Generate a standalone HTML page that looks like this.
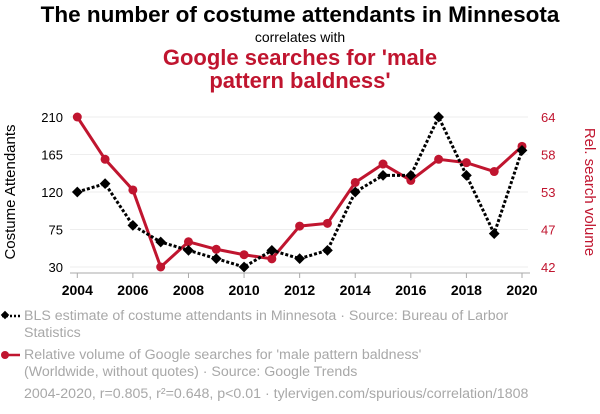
<!DOCTYPE html>
<html><head><meta charset="utf-8"><style>
body{margin:0;width:600px;height:414px;background:#fff;font-family:"Liberation Sans",sans-serif;overflow:hidden;position:relative}
.t{position:absolute;left:0;width:600px;text-align:center}
.lg{position:absolute;left:24px;color:#a8a8a8;font-size:14.2px;line-height:17px}
</style></head><body>
<div class="t" style="top:2px;font-size:22.5px;font-weight:bold;color:#000">The number of costume attendants in Minnesota</div>
<div class="t" style="top:29px;font-size:14px;color:#000">correlates with</div>
<div class="t" style="top:46px;font-size:22px;font-weight:bold;color:#c0152f;line-height:23px">Google searches for 'male<br>pattern baldness'</div>
<svg id="c" width="600" height="300" style="position:absolute;left:0;top:0"></svg>
<div class="lg" style="top:308px">BLS estimate of costume attendants in Minnesota · Source: Bureau of Larbor<br>Statistics</div>
<div class="lg" style="top:347px">Relative volume of Google searches for 'male pattern baldness'<br>(Worldwide, without quotes) · Source: Google Trends</div>
<div class="lg" style="top:386px">2004-2020, r=0.805, r²=0.648, p&lt;0.01 · tylervigen.com/spurious/correlation/1808</div>
<svg width="24" height="100" style="position:absolute;left:0;top:305px">
<line x1="2" y1="11" x2="20" y2="11" stroke="#000" stroke-width="2.5" stroke-dasharray="2,2"/>
<rect x="2" y="7" width="6" height="6" transform="rotate(45 5 10)" fill="#000"/>
<line x1="2" y1="50" x2="20" y2="50" stroke="#c0152f" stroke-width="2.5"/>
<circle cx="5" cy="50" r="4" fill="#c0152f"/>
</svg>
<script>
const years=[2004,2005,2006,2007,2008,2009,2010,2011,2012,2013,2014,2015,2016,2017,2018,2019,2020];
const attendants=[120,130,80,60,50,40,30,50,40,50,120,140,140,210,140,70,170];
const searches=[64,57.8,53.3,42,45.7,44.6,43.8,43.2,48.0,48.4,54.4,57.1,54.7,57.8,57.3,56.0,59.7];
const leftTicks=[30,75,120,165,210];
const rightTicks=[42,47,53,58,64];
const xTicks=[2004,2006,2008,2010,2012,2014,2016,2018,2020];
const NS="http://www.w3.org/2000/svg",svg=document.getElementById('c');
const x=v=>77.3+(v-2004)*(522-77.3)/16;
const yL=v=>267-(v-30)*150/180;
const yR=v=>267-(v-42)*150/22;
function mk(t,a,txt){const e=document.createElementNS(NS,t);for(const k in a)e.setAttribute(k,a[k]);if(txt!=null)e.textContent=txt;svg.appendChild(e);return e;}
leftTicks.forEach((t,i)=>{
const g=mk('line',{x1:70,x2:528,y1:yL(t),y2:yL(t),stroke:'#eee','stroke-width':1});


const l=mk('text',{x:63,y:yL(t)+5,'text-anchor':'end','font-size':13,fill:'#000'},t);


const r=mk('text',{x:541,y:yL(t)+5,'font-size':13,fill:'#c0152f'},rightTicks[i]);


});
const ax=mk('line',{x1:70,x2:530,y1:273,y2:273,stroke:'#aaa','stroke-width':1});


xTicks.forEach(t=>{
const tk=mk('line',{x1:x(t),x2:x(t),y1:273,y2:278,stroke:'#aaa'});


const l=mk('text',{x:x(t),y:295,'text-anchor':'middle','font-size':14,'font-weight':'bold',fill:'#000'},t);


});
const yt=mk('text',{x:0,y:0,'text-anchor':'middle','font-size':15,fill:'#000',transform:'translate(15,192) rotate(-90)'},'Costume Attendants');


const yt2=mk('text',{x:0,y:0,'text-anchor':'middle','font-size':15,fill:'#c0152f',transform:'translate(585,192) rotate(90)'},'Rel. search volume');


const rl=mk('polyline',{points:years.map((y,i)=>x(y)+','+yR(searches[i])).join(' '),fill:'none',stroke:'#c0152f','stroke-width':3});


years.forEach((y,i)=>{const c=mk('circle',{cx:x(y),cy:yR(searches[i]),r:4.5,fill:'#c0152f'});

});
const bl=mk('polyline',{points:years.map((y,i)=>x(y)+','+yL(attendants[i])).join(' '),fill:'none',stroke:'#000','stroke-width':3,'stroke-dasharray':'3,2'});


years.forEach((y,i)=>{const px=x(y),py=yL(attendants[i]);const d=mk('rect',{x:px-3.8,y:py-3.8,width:7.6,height:7.6,fill:'#000',transform:`rotate(45 ${px} ${py})`});

});
</script>
</body></html>
